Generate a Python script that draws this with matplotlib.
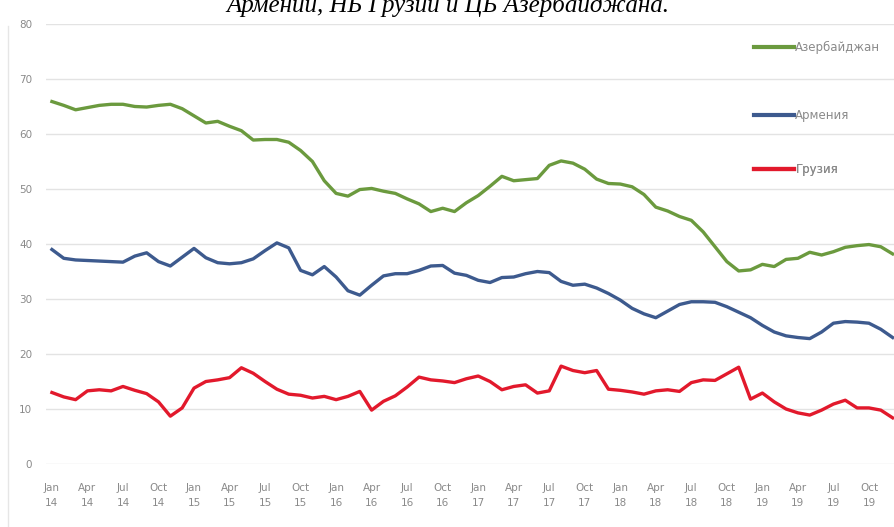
import matplotlib
matplotlib.use("Agg")
import matplotlib.pyplot as plt
import numpy as np

# monthly values, Jan 2014 .. Dec 2019
azerbaijan = [65.9, 65.2, 64.4, 64.8, 65.2, 65.4, 65.4, 65.0, 64.9, 65.2, 65.4, 64.6,
              63.3, 62.0, 62.3, 61.4, 60.6, 58.9, 59.0, 59.0, 58.5, 57.0, 55.0, 51.5,
              49.2, 48.7, 49.9, 50.1, 49.6, 49.2, 48.2, 47.3, 45.9, 46.5, 45.9, 47.5,
              48.8, 50.5, 52.3, 51.5, 51.7, 51.9, 54.3, 55.1, 54.7, 53.6, 51.8, 51.0,
              50.9, 50.4, 49.0, 46.7, 46.0, 45.0, 44.3, 42.2, 39.5, 36.8, 35.1, 35.3,
              36.3, 35.9, 37.2, 37.4, 38.5, 38.0, 38.6, 39.4, 39.7, 39.9, 39.5, 38.2]
armenia = [39.0, 37.4, 37.1, 37.0, 36.9, 36.8, 36.7, 37.8, 38.4, 36.8, 36.0, 37.6,
           39.2, 37.5, 36.6, 36.4, 36.6, 37.3, 38.8, 40.2, 39.3, 35.2, 34.4, 35.9,
           34.0, 31.5, 30.7, 32.5, 34.2, 34.6, 34.6, 35.2, 36.0, 36.1, 34.7, 34.3,
           33.4, 33.0, 33.9, 34.0, 34.6, 35.0, 34.8, 33.2, 32.5, 32.7, 32.0, 31.0,
           29.8, 28.3, 27.3, 26.6, 27.8, 29.0, 29.5, 29.5, 29.4, 28.6, 27.6, 26.6,
           25.2, 24.0, 23.3, 23.0, 22.8, 24.0, 25.6, 25.9, 25.8, 25.6, 24.5, 23.0]
georgia = [13.0, 12.2, 11.7, 13.3, 13.5, 13.3, 14.1, 13.4, 12.8, 11.3, 8.7, 10.2,
           13.8, 15.0, 15.3, 15.7, 17.5, 16.5, 15.0, 13.6, 12.7, 12.5, 12.0, 12.3,
           11.7, 12.3, 13.2, 9.8, 11.4, 12.4, 14.0, 15.8, 15.3, 15.1, 14.8, 15.5,
           16.0, 15.0, 13.5, 14.1, 14.4, 12.9, 13.3, 17.8, 17.0, 16.6, 17.0, 13.6,
           13.4, 13.1, 12.7, 13.3, 13.5, 13.2, 14.8, 15.3, 15.2, 16.4, 17.6, 11.8,
           12.9, 11.3, 10.0, 9.3, 8.9, 9.8, 10.9, 11.6, 10.2, 10.2, 9.8, 8.4]

months = ["Jan", "Apr", "Jul", "Oct"]
years = ["14", "15", "16", "17", "18", "19"]
tick_labels = [m + "\n" + y for y in years for m in months]

series = [("Азербайджан", azerbaijan, "#6b9a3e"),
          ("Армения", armenia, "#3d5a8e"),
          ("Грузия", georgia, "#e2192c")]

fig = plt.figure(figsize=(8.95, 5.27), dpi=100)
ax = fig.add_axes([0.0514, 0.1195, 0.9486, 0.835])

x = np.arange(len(azerbaijan))
lines = []
for name, vals, col in series:
    ln, = ax.plot(x, vals, color=col, lw=2.4, solid_joinstyle="round", label=name)
    lines.append(ln)

ax.set_xlim(-0.5, 71.2)
ax.set_ylim(0, 80)
ax.set_yticks(range(0, 81, 10))
ax.set_xticks(range(0, 72, 3))
ax.set_xticklabels(tick_labels, linespacing=1.6)
ax.tick_params(axis="both", length=0, colors="#8a8a8a", labelsize=7.5)
ax.tick_params(axis="y", pad=10)
ax.tick_params(axis="x", pad=14)
ax.grid(axis="y", color="#e3e3e3", lw=1.0)
ax.set_axisbelow(True)
for s in ax.spines.values():
    s.set_visible(False)

# separate legend entries stacked on the right
leg_y = [0.947, 0.792, 0.669]
for ln, yy in zip(lines, leg_y):
    leg = ax.legend(handles=[ln], loc="center left", bbox_to_anchor=(0.834, yy),
                    frameon=False, fontsize=8.5, handlelength=3.4, handletextpad=0.1,
                    borderaxespad=0, borderpad=0)
    for t in leg.get_texts():
        t.set_color("#8a8a8a")
    for h in leg.get_lines():
        h.set_linewidth(3)
    ax.add_artist(leg)

fig.text(0.5, 0.978, "Армении, НБ Грузии и ЦБ Азербайджана.", ha="center",
         va="baseline", fontsize=18, style="italic", family="Liberation Serif")
fig.add_artist(plt.Line2D([0.009, 0.009], [0, 0.95], color="#e6e6e6", lw=1))

fig.savefig("out.png", dpi=100)
